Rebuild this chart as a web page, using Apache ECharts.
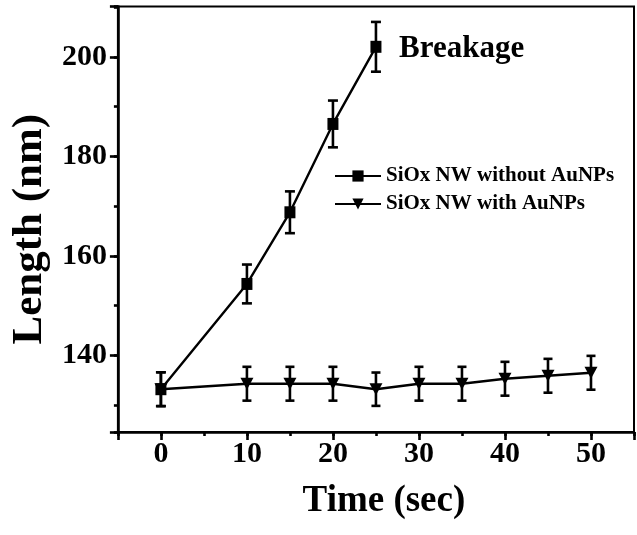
<!DOCTYPE html>
<html><head><meta charset="utf-8">
<script src="https://cdn.jsdelivr.net/npm/echarts@6/dist/echarts.min.js"></script>
<style>html,body{margin:0;padding:0;background:#fff}#c{width:637px;height:535px}</style>
</head><body><div id="c"></div>
<script>
// ---- data ----
const seriesNames = ['SiOx NW without AuNPs', 'SiOx NW with AuNPs'];
const timeWithout = [0, 10, 15, 20, 25];
const lenWithout  = [133.2, 154.35, 168.75, 186.5, 202.0];
const errWithout  = [3.4, 3.9, 4.2, 4.7, 5.0];
const timeWith = [0, 10, 15, 20, 25, 30, 35, 40, 45, 50];
const lenWith  = [133.2, 134.3, 134.3, 134.3, 133.2, 134.3, 134.3, 135.3, 135.9, 136.5];
const errWith  = [3.4, 3.4, 3.4, 3.4, 3.35, 3.4, 3.4, 3.4, 3.4, 3.4];
const xTickLabels = [0, 10, 20, 30, 40, 50];
const yTickLabels = [140, 160, 180, 200];
const annotationText = 'Breakage';

const FONT = '"Liberation Serif", "Times New Roman", serif';
const chart = echarts.init(document.getElementById('c'), null, {renderer: 'canvas'});

function pairs(xs, ys) { return xs.map((x, i) => [x, ys[i]]); }
function errData(xs, ys, es) { return xs.map((x, i) => [x, ys[i] - es[i], ys[i] + es[i]]); }
function errRender(capHalf) {
  return function (params, api) {
    const x = api.value(0);
    const pLo = api.coord([x, api.value(1)]);
    const pHi = api.coord([x, api.value(2)]);
    const st = {stroke: '#000', lineWidth: 2.6, fill: null};
    return {type: 'group', children: [
      {type: 'line', shape: {x1: pLo[0], y1: pLo[1], x2: pHi[0], y2: pHi[1]}, style: st},
      {type: 'line', shape: {x1: pLo[0] - capHalf, y1: pLo[1], x2: pLo[0] + capHalf, y2: pLo[1]}, style: st},
      {type: 'line', shape: {x1: pHi[0] - capHalf, y1: pHi[1], x2: pHi[0] + capHalf, y2: pHi[1]}, style: st}
    ]};
  };
}

const labelStyle = {fontFamily: FONT, fontWeight: 'bold', fontSize: 30, color: '#000'};
const xMin = -5, xMax = 55, yMin = 124.6, yMax = 210.1;

const option = {
  animation: false,
  backgroundColor: '#fff',
  grid: {left: 117.5, right: 2, top: 6.5, bottom: 103, show: true, borderColor: '#000', borderWidth: 2, containLabel: false},
  xAxis: [
    {type: 'value', min: xMin, max: xMax, minInterval: 10, maxInterval: 10, splitNumber: 6, position: 'bottom',
     name: 'Time (sec)', nameLocation: 'middle', nameGap: 51,
     nameTextStyle: {fontFamily: FONT, fontWeight: 'bold', fontSize: 37, color: '#000', padding: [0, 0, 0, 16]},
     axisLine: {onZero: false, lineStyle: {color: '#000', width: 2.6}},
     axisTick: {length: 8, lineStyle: {color: '#000', width: 2.6}},
     axisLabel: Object.assign({margin: 7, formatter: v => xTickLabels.includes(v) ? String(v) : ''}, labelStyle),
     splitLine: {show: false}},
    {type: 'value', min: xMin, max: xMax, interval: 5, position: 'bottom',
     axisLine: {show: false, onZero: false}, axisLabel: {show: false}, splitLine: {show: false},
     axisTick: {length: 4, lineStyle: {color: '#000', width: 2.6}}}
  ],
  yAxis: [
    {type: 'value', min: yMin, max: yMax, minInterval: 20, maxInterval: 20, splitNumber: 4, position: 'left',
     name: 'Length (nm)', nameLocation: 'middle', nameGap: 64,
     nameTextStyle: {fontFamily: FONT, fontWeight: 'bold', fontSize: 43, color: '#000', padding: [0, 20, 0, 0]},
     axisLine: {onZero: false, lineStyle: {color: '#000', width: 2.6}},
     axisTick: {length: 8, lineStyle: {color: '#000', width: 2.6}},
     axisLabel: Object.assign({margin: 11, formatter: v => yTickLabels.includes(v) ? String(v) : ''}, labelStyle),
     splitLine: {show: false}},
    {type: 'value', min: yMin, max: yMax, minInterval: 10, maxInterval: 10, splitNumber: 8, position: 'left',
     axisLine: {show: false, onZero: false}, axisLabel: {show: false}, splitLine: {show: false},
     axisTick: {length: 4, lineStyle: {color: '#000', width: 2.6}}}
  ],
  legend: {
    orient: 'vertical', left: 329, top: 159, itemWidth: 46, itemHeight: 14, itemGap: 4,
    data: seriesNames,
    textStyle: {fontFamily: FONT, fontWeight: 'bold', fontSize: 21, color: '#000', lineHeight: 24}
  },
  graphic: [
    {type: 'text', left: 399, top: 33, style: {text: annotationText, font: 'bold 31px "Liberation Serif", serif', fill: '#000'}}
  ],
  series: [
    {name: seriesNames[1], type: 'line', xAxisIndex: 0, yAxisIndex: 0, data: pairs(timeWith, lenWith),
     symbol: 'triangle', symbolRotate: 180, symbolSize: [13, 12],
     lineStyle: {color: '#000', width: 2.4}, itemStyle: {color: '#000'}, z: 3},
    {name: seriesNames[0], type: 'line', xAxisIndex: 0, yAxisIndex: 0, data: pairs(timeWithout, lenWithout),
     symbol: 'rect', symbolSize: [11, 12],
     lineStyle: {color: '#000', width: 2.4}, itemStyle: {color: '#000'}, z: 4},
    {type: 'custom', xAxisIndex: 0, yAxisIndex: 0, renderItem: errRender(4.5),
     data: errData(timeWith, lenWith, errWith), encode: {x: 0, y: [1, 2]}, z: 2},
    {type: 'custom', xAxisIndex: 0, yAxisIndex: 0, renderItem: errRender(5),
     data: errData(timeWithout, lenWithout, errWithout), encode: {x: 0, y: [1, 2]}, z: 2}
  ]
};
chart.setOption(option);
</script>
</body></html>
